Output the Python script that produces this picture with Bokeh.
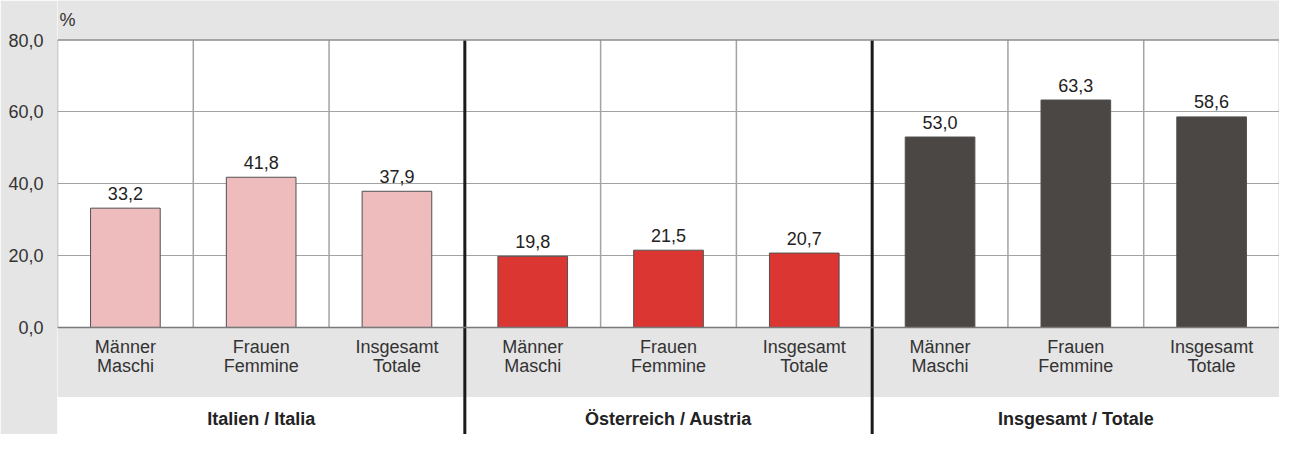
from bokeh.plotting import figure
from bokeh.models import Range1d, FixedTicker, Span, ColumnDataSource
from bokeh.core.properties import value
from bokeh.embed import file_html
from bokeh.resources import INLINE

# ---- data ----
groups = ["Italien / Italia", "Österreich / Austria", "Insgesamt / Totale"]
cat_de = ["Männer", "Frauen", "Insgesamt"]
cat_it = ["Maschi", "Femmine", "Totale"]
italia = [33.2, 41.8, 37.9]
austria = [19.8, 21.5, 20.7]
totale = [53.0, 63.3, 58.6]
group_colors = ["#efbcbe", "#dc3632", "#4b4745"]
y_ticks = [0, 20, 40, 60, 80]
y_tick_labels = ["0,0", "20,0", "40,0", "60,0", "80,0"]
unit_label = "%"

FONT = "Liberation Sans"
BG = "#e5e5e5"
GRID = "#a3a3a3"
FS = "18px"

Y_MAX = y_ticks[-1]
Y_TOP = 91.0     # frame extends above the top gridline (gray header)
Y_BOTTOM = -29.8  # frame extends below zero (label bands)
BAND_SPLIT = -19.33

series = [italia, austria, totale]
xs, tops, fills, vlabels, de, it = [], [], [], [], [], []
for g, vals in enumerate(series):
    for c, v in enumerate(vals):
        xs.append(g * len(vals) + c + 0.5)
        tops.append(v)
        fills.append(group_colors[g])
        vlabels.append(f"{v:.1f}".replace(".", ","))
        de.append(cat_de[c])
        it.append(cat_it[c])
n_cat = len(xs)

src = ColumnDataSource(dict(x=xs, top=tops, fill=fills, vlabel=vlabels, de=de, it=it))

p = figure(width=1279, height=434, output_backend="svg", toolbar_location=None,
           x_range=Range1d(0, n_cat), y_range=Range1d(Y_BOTTOM, Y_TOP),
           x_axis_location=None, title=None,
           min_border_left=57, min_border_top=0, min_border_right=0, min_border_bottom=0)
p.background_fill_color = "white"
p.border_fill_color = BG
p.outline_line_color = None
p.xgrid.visible = False
p.ygrid.ticker = FixedTicker(ticks=[t for t in y_ticks if 0 < t < Y_MAX])
p.ygrid.grid_line_color = GRID
p.ygrid.grid_line_width = 1

ax = p.yaxis[0]
ax.ticker = FixedTicker(ticks=y_ticks)
ax.major_label_overrides = dict(zip(y_ticks, y_tick_labels))
ax.axis_line_color = None
ax.major_tick_line_color = None
ax.minor_tick_line_color = None
ax.major_tick_out = 0
ax.major_tick_in = 0
ax.major_label_standoff = 14
ax.major_label_text_font = FONT
ax.major_label_text_font_size = FS
ax.major_label_text_color = "#333333"

# gray header above the plot area, gray band under the zero line
p.quad(left=0, right=n_cat, bottom=Y_MAX, top=Y_TOP + 5, fill_color=BG, line_color=None)
p.quad(left=0, right=n_cat, bottom=BAND_SPLIT, top=0, fill_color=BG, line_color=None)

# thin vertical cell borders
bounds = [b for b in range(n_cat + 1) if b % 3 != 0 or b in (0, n_cat)]
p.segment(x0=bounds, y0=[0] * len(bounds), x1=bounds, y1=[Y_MAX] * len(bounds),
          line_color=GRID, line_width=1.5)

# bars
p.vbar(x="x", top="top", bottom=0, width=0.513, source=src,
       fill_color="fill", line_color="#505050", line_width=1)

# value labels
p.text(x="x", y="top", text="vlabel", source=src, text_align="center",
       text_baseline="middle", y_offset=-15, text_font=value(FONT),
       text_font_size=FS, text_color="#222222")

# category labels (two lines)
p.text(x="x", y=0, text="de", source=src, text_align="center",
       text_baseline="middle", y_offset=20, text_font=value(FONT),
       text_font_size=FS, text_color="#333333")
p.text(x="x", y=0, text="it", source=src, text_align="center",
       text_baseline="middle", y_offset=39, text_font=value(FONT),
       text_font_size=FS, text_color="#333333")

# group labels
gx = [g * 3 + 1.5 for g in range(len(groups))]
p.text(x=gx, y=[0] * len(gx), text=groups, text_align="center",
       text_baseline="middle", y_offset=92, text_font=value(FONT),
       text_font_size=FS, text_font_style="bold", text_color="#222222")

# unit label
p.text(x=[0], y=[Y_MAX], text=[unit_label], text_align="left",
       text_baseline="middle", x_offset=2, y_offset=-20, text_font=value(FONT),
       text_font_size="18px", text_color="#333333")

# thick group separators
seps = list(range(3, n_cat, 3))
p.segment(x0=seps, y0=[Y_MAX] * len(seps), x1=seps, y1=[Y_BOTTOM] * len(seps),
          line_color="#1a1a1a", line_width=3)

# top border and zero line
p.add_layout(Span(location=Y_MAX, dimension="width", line_color="#8c8c8c", line_width=1.5))
p.add_layout(Span(location=0, dimension="width", line_color="#7a7a7a", line_width=1.5))

open("out.html", "w").write(file_html(p, INLINE))
